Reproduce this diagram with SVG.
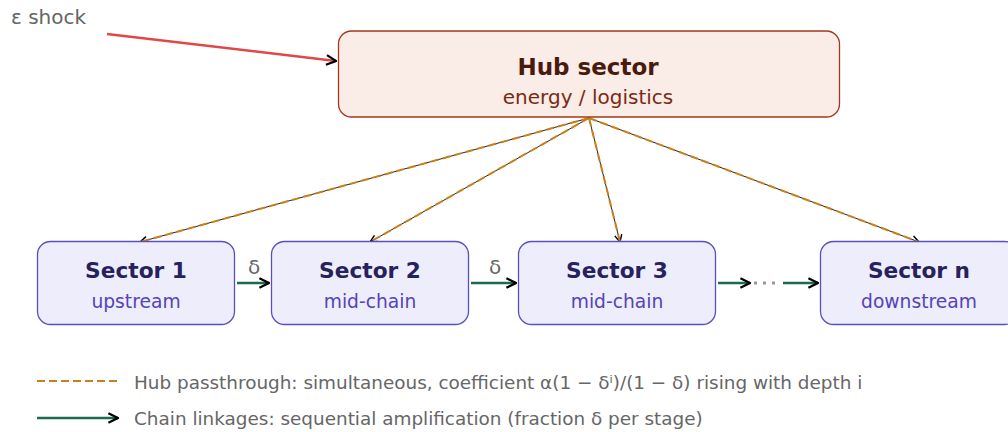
<svg xmlns="http://www.w3.org/2000/svg" width="1008" height="432" viewBox="0 0 1008 432">
  <style>
    text { font-family: "DejaVu Sans", "Liberation Sans", sans-serif; }
    .hub-box { fill: #faece7; stroke: #a2391d; stroke-width: 1.3; }
    .hub-title { font-size: 23px; font-weight: bold; fill: #4a1a0c; text-anchor: middle; }
    .hub-sub { font-size: 20px; fill: #7a2a14; text-anchor: middle; }
    .sec-box { fill: #ededfb; stroke: #5b4fc0; stroke-width: 1.3; }
    .sec-title { font-size: 21.7px; font-weight: bold; fill: #27225e; text-anchor: middle; }
    .sec-sub { font-size: 18.7px; fill: #5544b8; text-anchor: middle; }
    .pass-under { stroke: #222; stroke-width: 1; fill: none; }
    .pass { stroke: #c9801a; stroke-width: 2; stroke-dasharray: 8 4; fill: none; }
    .chain { stroke: #1a6b4f; stroke-width: 2.5; fill: none; }
    .gap { stroke: #999; stroke-width: 3; stroke-dasharray: 3 6; fill: none; }
    .shock { stroke: #e04848; stroke-width: 2.5; fill: none; }
    .label { font-size: 20px; fill: #666; }
    .legend { font-size: 18.4px; fill: #666; }
  </style>
  <defs>
    <marker id="arrow" viewBox="0 0 10 10" refX="9" refY="5" markerWidth="9" markerHeight="9" markerUnits="userSpaceOnUse" orient="auto">
      <path d="M1,1 L9,5 L1,9" fill="none" stroke="#000" stroke-width="1.6"/>
    </marker>
    <marker id="arrow-lg" viewBox="0 0 10 10" refX="9" refY="5" markerWidth="12" markerHeight="12" markerUnits="userSpaceOnUse" orient="auto">
      <path d="M1,1 L9,5 L1,9" fill="none" stroke="#000" stroke-width="1.8"/>
    </marker>
  </defs>

  <!-- connectors -->
  <g id="connectors">
    <!-- hub passthrough fan-out -->
    <g id="hub-links">
      <line class="pass-under" x1="589" y1="118" x2="140" y2="242" marker-end="url(#arrow)"/>
      <line class="pass" x1="589" y1="118" x2="140" y2="242"/>
      <line class="pass-under" x1="589" y1="118" x2="370" y2="242" marker-end="url(#arrow)"/>
      <line class="pass" x1="589" y1="118" x2="370" y2="242"/>
      <line class="pass-under" x1="589" y1="118" x2="620" y2="242" marker-end="url(#arrow)"/>
      <line class="pass" x1="589" y1="118" x2="620" y2="242"/>
      <line class="pass-under" x1="589" y1="118" x2="919" y2="242" marker-end="url(#arrow)"/>
      <line class="pass" x1="589" y1="118" x2="919" y2="242"/>
    </g>
    <!-- external shock -->
    <line class="shock" x1="107" y1="34" x2="336" y2="61" marker-end="url(#arrow-lg)"/>
    <!-- chain linkages -->
    <line class="chain" x1="237" y1="283" x2="269" y2="283" marker-end="url(#arrow-lg)"/>
    <line class="chain" x1="471" y1="283" x2="516" y2="283" marker-end="url(#arrow-lg)"/>
    <line class="chain" x1="718" y1="283" x2="750" y2="283" marker-end="url(#arrow-lg)"/>
    <line class="gap" x1="754" y1="283" x2="780" y2="283"/>
    <line class="chain" x1="783" y1="283" x2="818" y2="283" marker-end="url(#arrow-lg)"/>
    <text class="label" x="254" y="274" text-anchor="middle">δ</text>
    <text class="label" x="495" y="274" text-anchor="middle">δ</text>
  </g>

  <text class="label" x="11" y="24">ε shock</text>

  <g id="hub">
    <rect class="hub-box" x="338.5" y="31" width="501" height="86" rx="13"/>
    <text class="hub-title" x="588" y="75">Hub sector</text>
    <text class="hub-sub" x="588" y="104">energy / logistics</text>
  </g>

  <g id="sector-1">
    <rect class="sec-box" x="37.5" y="241.5" width="197" height="83" rx="13"/>
    <text class="sec-title" x="136" y="278">Sector 1</text>
    <text class="sec-sub" x="136" y="308">upstream</text>
  </g>
  <g id="sector-2">
    <rect class="sec-box" x="271.5" y="241.5" width="197" height="83" rx="13"/>
    <text class="sec-title" x="370" y="278">Sector 2</text>
    <text class="sec-sub" x="370" y="308">mid-chain</text>
  </g>
  <g id="sector-3">
    <rect class="sec-box" x="518.5" y="241.5" width="197" height="83" rx="13"/>
    <text class="sec-title" x="617" y="278">Sector 3</text>
    <text class="sec-sub" x="617" y="308">mid-chain</text>
  </g>
  <g id="sector-n">
    <rect class="sec-box" x="820.5" y="241.5" width="197" height="83" rx="13"/>
    <text class="sec-title" x="919" y="278">Sector n</text>
    <text class="sec-sub" x="919" y="308">downstream</text>
  </g>

  <g id="legend">
    <line class="pass" x1="37" y1="381" x2="121" y2="381" stroke-dasharray="9 5"/>
    <text class="legend" x="134" y="389">Hub passthrough: simultaneous, coefficient α(1 − δⁱ)/(1 − δ) rising with depth i</text>
    <line class="chain" x1="37" y1="418" x2="118" y2="418" marker-end="url(#arrow-lg)"/>
    <text class="legend" x="134" y="425">Chain linkages: sequential amplification (fraction δ per stage)</text>
  </g>
</svg>
